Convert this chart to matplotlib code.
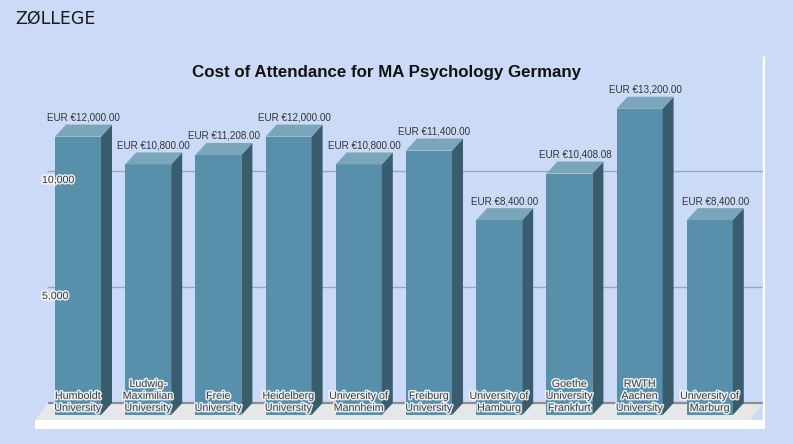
import matplotlib
matplotlib.use("Agg")
import matplotlib.pyplot as plt
import matplotlib.patheffects as pe
from matplotlib.patches import Polygon, Rectangle
from matplotlib.transforms import blended_transform_factory

# ---------------- data ----------------
categories = ["Humboldt\nUniversity", "Ludwig-\nMaximilian\nUniversity", "Freie\nUniversity",
              "Heidelberg\nUniversity", "University of\nMannheim", "Freiburg\nUniversity",
              "University of\nHamburg", "Goethe\nUniversity\nFrankfurt", "RWTH\nAachen\nUniversity",
              "University of\nMarburg"]
costs = [12000, 10800, 11208, 12000, 10800, 11400, 8400, 10408.08, 13200, 8400]
yticks = [5000, 10000]
ytick_labels = ["5,000", "10,000"]
title = "Cost of Attendance for MA Psychology Germany"

# ---------------- layout ----------------
W, H, DPI = 793, 444, 100
BG = "#CBDAF7"
FRONT = "#5890AB"
SIDE = "#3A5D6D"
TOP = "#7BA5B9"
FONT = ["Liberation Sans", "DejaVu Sans"]

PX_CAT = 70.2            # pixels per category
X0 = 78                  # pixel of first category center
VPP = 5000 / 116         # value units per pixel
AX_L, AX_R, AX_T, AX_B, BASE = 35, 765, 56, 429, 403

fig = plt.figure(figsize=(W / DPI, H / DPI), dpi=DPI, facecolor=BG)
ax = fig.add_axes([AX_L / W, (H - AX_B) / H, (AX_R - AX_L) / W, (AX_B - AX_T) / H])
ax.set_facecolor("none")
xmin, xmax = (AX_L - X0) / PX_CAT, (AX_R - X0) / PX_CAT
ymin, ymax = -(AX_B - BASE) * VPP, (BASE - AX_T) * VPP
ax.set_xlim(xmin, xmax)
ax.set_ylim(ymin, ymax)
ax.axis("off")

px = 1 / PX_CAT          # one pixel in x data units
py = VPP                 # one pixel in y data units
BW = 46 * px
DX, DY = 11 * px, 12 * py
FDX, FDY = 13 * px, 17 * py

# floor
right_back = xmax - 2 * px
floor = Polygon([(xmin + FDX, 0), (right_back, 0), (right_back - FDX, -FDY), (xmin, -FDY)],
                closed=True, facecolor="#E6E7E9", edgecolor="none", zorder=1)
ax.add_patch(floor)
ax.plot([xmin + FDX, right_back], [0, 0], color="#8E8E90", lw=1.6, zorder=1.5,
        solid_capstyle="butt")
ax.add_patch(Rectangle((xmin, ymin), xmax - xmin, -FDY - ymin, facecolor="white",
                       edgecolor="none", zorder=1))
ax.plot([xmax - 1.2 * px] * 2, [ymin, ymax], color="white", lw=2.5, zorder=1,
        solid_capstyle="butt")

# grid lines on back wall
for t in yticks:
    ax.plot([xmin + FDX, right_back], [t, t], color="#98A7C0", lw=1, zorder=0.5)

halo = [pe.withStroke(linewidth=2.2, foreground="white", alpha=0.85)]
trans = blended_transform_factory(ax.transAxes, ax.transData)
for t, lab in zip(yticks, ytick_labels):
    ax.annotate(lab, xy=((42 - AX_L) / (AX_R - AX_L), t), xycoords=trans,
                xytext=(0, -6.5), textcoords="offset points", ha="left", va="center",
                fontsize=7.6, color="#3A3A3A", family=FONT, path_effects=halo, zorder=6)

# 3D bars
xs = list(range(len(costs)))
ax.bar(xs, costs, width=BW, bottom=-DY, color=FRONT, edgecolor="none", zorder=3)
for x, v in zip(xs, costs):
    xl, xr = x - BW / 2, x + BW / 2
    ax.add_patch(Polygon([(xr, -DY), (xr, v - DY), (xr + DX, v), (xr + DX, 0)],
                         closed=True, facecolor=SIDE, edgecolor="none", zorder=3))
    ax.add_patch(Polygon([(xl, v - DY), (xr, v - DY), (xr + DX, v), (xl + DX, v)],
                         closed=True, facecolor=TOP, edgecolor="none", zorder=3))
    ax.annotate(f"EUR €{v:,.2f}", xy=(x + DX / 2, v), xytext=(0, 1.5),
                textcoords="offset points", ha="center", va="bottom",
                fontsize=7.1, color="#333333", family=FONT, zorder=5)

for x, c in zip(xs, categories):
    ax.annotate(c, xy=(x, -DY), xytext=(0, 1.5), textcoords="offset points",
                ha="center", va="bottom", multialignment="center", linespacing=1.25,
                fontsize=7.7, color="#404040", family=FONT, path_effects=halo, zorder=6)

# title and logo
fig.text(386.5 / W, 1 - 72 / H, title, ha="center", va="center", fontsize=12.2,
         fontweight="bold", family=FONT, color="#111111")
fig.text(15 / W, 1 - 18.5 / H, "ZØLLEGE", ha="left", va="center", fontsize=12.5,
         family=["DejaVu Sans"], color="#1A1A1A")

fig.savefig("out.png", dpi=DPI, facecolor=BG)
